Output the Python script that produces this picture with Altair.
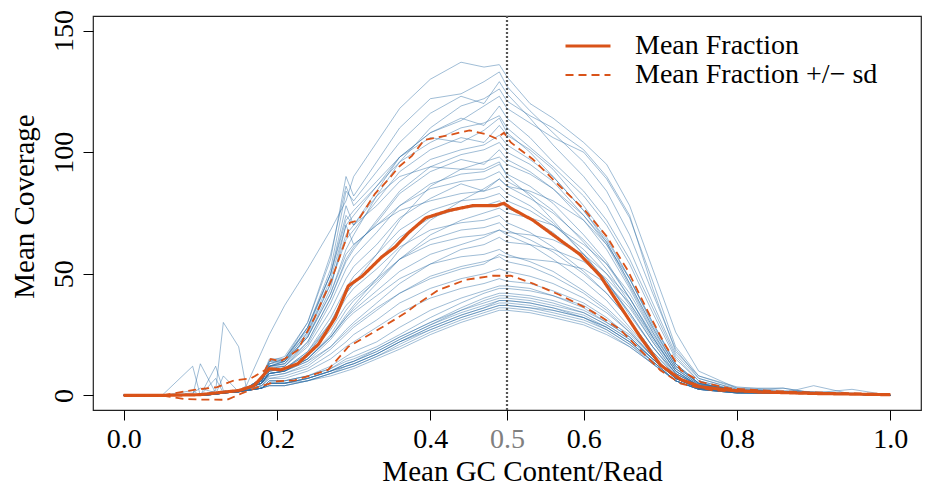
import altair as alt
import pandas as pd

# GC-content grid shared by the per-sample coverage curves
GC = [0.00, 0.05, 0.09, 0.10, 0.12, 0.13, 0.15, 0.16, 0.18, 0.19,
      0.21, 0.24, 0.27, 0.29, 0.30, 0.33, 0.36, 0.40, 0.44, 0.47,
      0.49, 0.50, 0.53, 0.56, 0.60, 0.63, 0.66, 0.69, 0.72, 0.75,
      0.80, 0.86, 0.90, 0.95, 1.00]

# per-sample mean coverage
S01 = [0, 0, 0, 0, 1, 1, 2, 4, 18, 25, 37, 52, 68, 80, 90, 104, 118, 130, 137, 135, 136, 131, 120, 114, 104, 95, 78, 52, 26, 10, 3, 1.5, 1, 0.5, 0]
S02 = [0, 0, 0, 0, 1, 1, 2, 3, 7, 14, 16, 30, 56, 90, 82, 96, 110, 122, 124, 129, 133, 127, 117, 108, 96, 84, 66, 42, 19, 7, 2.5, 1.5, 1, 0.5, 0]
S03 = [0, 0, 0, 0, 0.5, 1, 2, 3, 6, 13, 15, 28, 52, 84, 80, 92, 104, 116, 123, 120, 129, 124, 114, 103, 90, 78, 60, 38, 17, 7, 2.5, 1.5, 1, 0.5, 0]
S04 = [0, 0, 0, 0, 1, 1, 2, 3, 6, 12, 14, 24, 42, 60, 66, 82, 96, 110, 119, 122, 126, 121, 115, 110, 101, 90, 74, 44, 18, 8, 3.5, 2, 1.5, 1, 0]
S05 = [0, 0, 0, 0, 0.5, 1, 1.5, 3, 6, 12, 14, 26, 48, 70, 74, 86, 98, 108, 113, 119, 123, 118, 112, 106, 100, 89, 73, 47, 20, 8, 3, 3, 1, 0.5, 0]
S06 = [0, 0, 0, 0, 1, 1, 2, 3, 7, 13, 15, 30, 58, 86, 78, 88, 98, 108, 114, 111, 119, 114, 106, 96, 84, 72, 56, 36, 16, 6, 2, 1.5, 1, 0.5, 0]
S07 = [0, 0, 0, 0, 12, 2, 2, 3, 6, 12, 14, 28, 50, 72, 76, 86, 96, 104, 110, 112, 115, 110, 102, 94, 82, 70, 54, 34, 15, 6, 2, 1.5, 1, 0.5, 0]
S08 = [0, 0, 0, 0, 1, 1, 2, 3, 6, 13, 14, 26, 46, 64, 68, 80, 92, 101, 106, 104, 111, 107, 101, 93, 78, 65, 48, 29, 13, 5, 2, 1.5, 1, 0.5, 0]
S09 = [0, 0, 0, 0, 1, 1, 2, 3, 7, 15, 15, 27, 50, 78, 70, 78, 88, 97, 101, 103, 107, 103, 97, 90, 76, 63, 46, 28, 12, 5, 2, 1.5, 1, 0.5, 0]
S10 = [0, 0, 1, 3, 1, 1, 2, 3, 6, 12, 13, 22, 40, 55, 60, 72, 84, 94, 99, 101, 104, 100, 95, 88, 74, 62, 45, 27, 12, 5, 2, 1.5, 1.5, 0.5, 0]
S11 = [0, 0, 0, 0, 1, 1, 2, 3, 6, 11, 12, 22, 40, 56, 61, 71, 83, 92, 97, 95, 101, 97, 92, 85, 72, 60, 44, 26, 11, 4.5, 2, 1, 1, 0.5, 0]
S12 = [0, 0, 0, 0, 1, 1, 2, 3, 5, 10, 11, 18, 30, 42, 46, 58, 72, 86, 93, 96, 98, 95, 91, 85, 74, 63, 46, 28, 12, 5, 2, 1, 1, 0.5, 0]
S13 = [0, 0, 0, 0, 2, 30, 20, 3, 6, 12, 12, 21, 38, 52, 57, 67, 78, 87, 91, 92, 95, 91, 86, 79, 66, 55, 40, 24, 10, 4, 2, 1.5, 1, 0.5, 0]
S14 = [0, 0, 0, 0, 1, 1, 2, 3, 7, 14, 14, 24, 44, 70, 62, 70, 78, 85, 88, 89, 92, 88, 83, 76, 63, 52, 38, 23, 10, 4, 2, 1, 1, 0.5, 0]
S15 = [0, 0, 0, 0, 1, 1, 2, 3, 6, 11, 12, 20, 35, 48, 53, 62, 73, 81, 87, 84, 89, 86, 81, 75, 64, 54, 40, 24, 10, 4, 2, 1, 1, 0.5, 0]
S16 = [0, 0, 0, 0, 1, 1, 2, 3, 6, 12, 13, 24, 42, 58, 62, 70, 76, 80, 83, 84, 86, 83, 78, 71, 58, 47, 33, 20, 9, 4, 2, 3, 1, 0.5, 0]
S17 = [0, 0, 0, 13, 1, 1, 2, 3, 5, 10, 11, 18, 32, 44, 49, 58, 68, 76, 80, 81, 83, 80, 76, 70, 60, 50, 37, 22, 9, 4, 2, 1.5, 1, 0.5, 0]
S18 = [0, 0, 0, 0, 1, 1, 2, 3, 5, 10, 11, 17, 30, 42, 46, 55, 65, 73, 77, 78, 80, 77, 73, 67, 56, 46, 34, 20, 8, 3.5, 1.5, 1, 1, 0.5, 0]
S19 = [0, 0, 0, 0, 0.5, 1, 2, 3, 5, 9, 10, 15, 24, 32, 36, 46, 56, 66, 72, 75, 77, 75, 73, 70, 62, 54, 42, 26, 11, 4.5, 2, 1, 1, 0.5, 0]
S20 = [0, 0, 0, 0, 1, 1, 2, 3, 5, 10, 11, 17, 29, 40, 44, 52, 61, 68, 71, 72, 74, 71, 67, 61, 51, 42, 31, 18, 8, 3.5, 1.5, 1, 4, 0.5, 0]
S21 = [0, 0, 12, 0, 1, 1, 2, 3, 5, 9, 10, 15, 25, 35, 39, 47, 56, 64, 68, 69, 71, 68, 64, 59, 50, 42, 31, 18, 8, 3.5, 1.5, 1, 1, 0.5, 0]
S22 = [0, 0, 0, 0, 1, 1, 2, 3, 5, 9, 10, 16, 27, 37, 40, 48, 56, 62, 65, 66, 68, 66, 62, 56, 47, 39, 28, 17, 7, 3, 1.5, 1, 1, 0.5, 0]
S23 = [0, 0, 0, 0, 0.5, 1, 1.5, 2.5, 5, 8, 9, 13, 20, 27, 30, 38, 46, 54, 60, 62, 65, 63, 62, 60, 55, 48, 38, 24, 10, 4, 1.5, 1, 1, 0.5, 0]
S24 = [0, 0, 0, 0, 1, 1, 2, 3, 5, 9, 10, 14, 23, 31, 34, 41, 48, 54, 57, 58, 60, 58, 55, 51, 43, 36, 27, 16, 7, 3, 1.5, 1, 1, 0.5, 0]
S25 = [0, 0, 0, 0, 7, 1, 1.5, 2.5, 4, 8, 9, 12, 19, 25, 28, 35, 42, 49, 53, 55, 57, 55, 53, 49, 42, 35, 26, 16, 7, 3, 1.5, 1, 1, 0.5, 0]
S26 = [0, 0, 0, 0, 0.5, 1, 1.5, 2.5, 4, 7, 8, 11, 17, 22, 25, 31, 38, 44, 48, 50, 52, 51, 49, 46, 40, 34, 26, 16, 7, 3, 1.5, 1, 1, 0.5, 0]
S27 = [0, 0, 0, 0, 0.5, 1, 1.5, 2.5, 4, 7, 7, 10, 15, 20, 22, 28, 34, 40, 44, 46, 48, 47, 46, 43, 38, 32, 24, 15, 7, 3, 1.5, 1, 1, 0.5, 0]
S28 = [0, 0, 0, 0, 0.5, 1, 1.5, 2, 3, 6, 6, 8, 11, 15, 16, 20, 25, 32, 38, 42, 44, 44, 43, 41, 37, 31, 25, 16, 7, 3, 1.2, 1, 1, 2.5, 0]
S29 = [0, 0, 0, 0, 0.5, 1, 1.5, 2, 3, 5, 5, 7, 10, 13, 14, 19, 24, 30, 36, 40, 42, 42, 41, 39, 35, 30, 24, 15, 7, 3, 1.2, 1, 1, 0.5, 0]
S30 = [0, 0, 2, 0, 0.5, 8, 1.5, 2, 3, 6, 6, 8, 11, 14, 15, 19, 24, 30, 35, 39, 41, 41, 40, 38, 34, 29, 23, 15, 7, 3, 1.2, 1, 1, 0.5, 0]
S31 = [0, 0, 0, 0, 0.5, 1, 1.5, 2, 3, 5, 5, 7, 10, 13, 14, 18, 23, 29, 35, 38, 40, 40, 39, 37, 34, 29, 23, 15, 7, 3, 1.2, 1, 1, 0.5, 0]
S32 = [0, 0, 0, 0, 0.5, 1, 1.5, 2, 3, 5, 5, 7, 10, 13, 14, 18, 23, 29, 34, 37, 39, 39, 38, 36, 33, 28, 22, 14, 6, 2.5, 1, 1, 1, 0.5, 0]
S33 = [0, 0, 0, 0, 0.5, 1, 1.5, 2, 3, 5, 5, 7, 10, 12, 13, 17, 22, 28, 33, 36, 38, 38, 37, 35, 32, 27, 21, 14, 6, 2.5, 1, 1, 1, 0.5, 0]
S34 = [0, 0, 0, 0, 0.5, 1, 1.5, 2, 3, 5, 5, 6, 9, 12, 13, 17, 22, 27, 32, 35, 37, 37, 36, 34, 31, 27, 21, 13, 6, 2.5, 1, 1, 1, 0.5, 0]
S35 = [0, 0, 0, 0, 0.5, 1, 1.5, 2, 3, 4, 4, 6, 9, 11, 12, 16, 21, 27, 32, 35, 37, 37, 36, 35, 32, 28, 22, 14, 6, 2.5, 1, 1, 1, 0.5, 0]
S36 = [0, 0, 0, 0, 0.5, 1, 1.5, 2, 3, 4, 4, 6, 9, 11, 12, 16, 20, 26, 31, 34, 36, 36, 35, 33, 30, 26, 20, 13, 6, 2.5, 1, 1, 1, 0.5, 0]
S37 = [0, 0, 0, 0, 0.5, 1, 1.5, 2, 3, 4, 4, 6, 8, 10, 11, 15, 19, 25, 30, 33, 35, 35, 34, 32, 29, 25, 20, 13, 6, 2.5, 1, 1, 1, 0.5, 0]
S38 = [0, 0, 0, 0, 1, 1, 2, 3, 5, 9, 10, 14, 20, 26, 29, 36, 42, 48, 52, 54, 58, 57, 56, 55, 52, 46, 36, 22, 9, 4, 1.5, 1, 1, 0.5, 0]
S39 = [0, 0, 0, 0, 1, 1, 2, 3, 5, 9, 10, 15, 24, 33, 37, 48, 60, 72, 80, 85, 89, 86, 84, 80, 72, 62, 48, 30, 13, 5, 2, 1, 1, 0.5, 0]
S40 = [0, 0, 0, 0, 1, 1, 2, 3, 7, 14, 15, 28, 50, 74, 70, 82, 90, 94, 93, 93, 96, 90, 82, 72, 58, 47, 34, 20, 9, 4, 2, 1, 1, 0.5, 0]
S41 = [0, 0, 0, 0, 0.5, 1, 1.5, 2, 3, 6, 6, 8, 12, 16, 18, 22, 28, 35, 40, 43, 45, 45, 44, 41, 36, 30, 24, 15, 7, 3, 1.2, 1, 1, 0.5, 0]
S42 = [0, 0, 0, 0, 0.5, 1, 1.5, 2, 3, 5, 5, 7, 10, 12, 13, 17, 22, 28, 33, 36, 39, 39, 38, 36, 32, 28, 22, 14, 6, 2.5, 1, 1, 1, 0.5, 0]
S43 = [0, 0, 0, 0, 1, 1, 2, 3, 6, 12, 13, 25, 46, 66, 70, 84, 98, 106, 104, 109, 114, 108, 100, 90, 76, 64, 48, 30, 13, 5, 2, 1.5, 1, 0.5, 0]
S44 = [0, 0, 0, 0, 1, 1, 2, 3, 5, 9, 10, 15, 24, 32, 35, 43, 51, 58, 62, 65, 68, 67, 66, 64, 58, 50, 40, 25, 11, 4.5, 2, 1, 1, 0.5, 0]

SAMPLES = [S01, S02, S03, S04, S05, S06, S07, S08, S09, S10, S11, S12, S13,
           S14, S15, S16, S17, S18, S19, S20, S21, S22, S23, S24, S25, S26,
           S27, S28, S29, S30, S31, S32, S33, S34, S35, S36, S37, S38, S39,
           S40, S41, S42, S43, S44]

# mean fraction and mean +/- sd
MEAN_X = [0.0, 0.05, 0.10, 0.12, 0.15, 0.17, 0.19, 0.205, 0.227, 0.254, 0.276, 0.293, 0.311, 0.337, 0.354, 0.372, 0.394, 0.424, 0.455, 0.486, 0.496, 0.505, 0.534, 0.573, 0.595, 0.622, 0.648, 0.674, 0.70, 0.727, 0.753, 0.792, 0.832, 0.90, 1.0]
MEAN_Y = [0, 0, 0.3, 1, 2, 4, 11, 10.5, 13, 21, 32, 45, 49, 57, 61, 67, 73, 76, 78, 78, 79, 77, 72, 63, 58, 49, 36.5, 24, 12.5, 6.5, 3.5, 2.1, 1.4, 0.8, 0.3]
UP_X = [0.0, 0.05, 0.092, 0.122, 0.144, 0.166, 0.184, 0.192, 0.205, 0.227, 0.249, 0.271, 0.291, 0.295, 0.306, 0.328, 0.346, 0.359, 0.376, 0.392, 0.424, 0.451, 0.473, 0.486, 0.496, 0.505, 0.534, 0.569, 0.602, 0.63, 0.657, 0.683, 0.705, 0.727, 0.753, 0.792, 0.85, 0.90, 1.0]
UP_Y = [0, 0, 2.3, 3.4, 6.2, 7, 10.3, 15, 14, 18.6, 32, 47.5, 65, 71, 72, 83, 89, 94, 98.5, 105, 107, 109, 107.4, 105.6, 108, 104, 97, 86, 76, 65.4, 51.7, 35, 21.4, 10.3, 5.5, 2.8, 1.8, 1.2, 0.5]
LO_X = [0.0, 0.05, 0.078, 0.10, 0.135, 0.153, 0.175, 0.20, 0.223, 0.245, 0.267, 0.293, 0.337, 0.368, 0.385, 0.411, 0.446, 0.481, 0.505, 0.534, 0.569, 0.604, 0.622, 0.648, 0.674, 0.70, 0.727, 0.77, 0.85, 1.0]
LO_Y = [0, 0, -1.4, -1.7, -1.8, 0.7, 3.4, 5.8, 6.2, 8.3, 10.6, 20, 28, 34, 38, 43.4, 47.5, 49.2, 49.2, 46, 41.3, 35.8, 32.4, 27, 18.6, 10.3, 4.8, 2, 1, 0.3]

X_TICKS = [0.0, 0.2, 0.4, 0.5, 0.6, 0.8, 1.0]
Y_TICKS = [0, 50, 100, 150]
SERIES = ["Mean Fraction", "Mean Fraction +/\u2212 sd"]
MARK_X = [0.5]

FONT = "Liberation Serif"
FS = 28
FS_TITLE = 29
ORANGE = "#d95319"
BLUE = "#2c6ca3"

rows = []
for i, vals in enumerate(SAMPLES):
    for g, c in zip(GC, vals):
        rows.append({"gc": g, "cov": c, "sample": f"s{i:02d}"})
blue_df = pd.DataFrame(rows)

srows = []
for g, c in zip(MEAN_X, MEAN_Y):
    srows.append({"gc": g, "cov": c, "series": SERIES[0], "part": "mean"})
for g, c in zip(UP_X, UP_Y):
    srows.append({"gc": g, "cov": c, "series": SERIES[1], "part": "upper"})
for g, c in zip(LO_X, LO_Y):
    srows.append({"gc": g, "cov": c, "series": SERIES[1], "part": "lower"})
sum_df = pd.DataFrame(srows)

xs = alt.Scale(domain=[-0.04, 1.04], nice=False, zero=False)
ys = alt.Scale(domain=[-6, 156], nice=False, zero=False)

x_axis = alt.Axis(
    values=X_TICKS, format=".1f", domain=False, grid=False,
    tickSize=10, tickColor="black", tickWidth=1,
    labelFont=FONT, labelFontSize=FS, labelPadding=5,
    labelFlush=False, labelOverlap=False,
    labelColor={"condition": {"test": "datum.value == 0.5", "value": "#808080"}, "value": "black"},
    title="Mean GC Content/Read", titleFont=FONT, titleFontSize=FS_TITLE,
    titleFontWeight="normal", titleColor="black",
    titleX=429, titleY=70, titleAlign="center", titleBaseline="alphabetic",
)
y_axis = alt.Axis(
    values=Y_TICKS, format="d", domain=False, grid=False,
    tickSize=10, tickColor="black", tickWidth=1,
    labelFont=FONT, labelFontSize=FS, labelPadding=11, labelColor="black",
    labelAngle=270, labelAlign="center", labelBaseline="alphabetic",
    title="Mean Coverage", titleFont=FONT, titleFontSize=FS_TITLE,
    titleFontWeight="normal", titleColor="black",
    titleAngle=270, titleX=-60, titleY=190, titleAlign="center",
    titleBaseline="alphabetic",
)

blue = alt.Chart(blue_df).mark_line(strokeWidth=1, color=BLUE, opacity=0.45).encode(
    x=alt.X("gc:Q", scale=xs, axis=x_axis),
    y=alt.Y("cov:Q", scale=ys, axis=y_axis),
    detail="sample:N",
)

vline = alt.Chart(pd.DataFrame({"gc": MARK_X})).mark_rule(
    color="#555555", strokeDash=[2, 2], strokeWidth=2.2
).encode(x=alt.X("gc:Q", scale=xs))

summary = alt.Chart(sum_df).mark_line(color=ORANGE).encode(
    x=alt.X("gc:Q", scale=xs),
    y=alt.Y("cov:Q", scale=ys),
    detail="part:N",
    strokeDash=alt.StrokeDash(
        "series:N",
        scale=alt.Scale(domain=SERIES, range=[[1, 0], [8, 5]]),
        legend=alt.Legend(
            title=None, orient="none", legendX=481, legendY=16,
            symbolType="M-2,0H2", symbolSize=506, symbolStrokeWidth=3,
            symbolStrokeColor=ORANGE, labelFont=FONT, labelFontSize=FS,
            labelColor="black", labelOffset=33, rowPadding=1, padding=0,
            labelLimit=400,
        ),
    ),
    strokeWidth=alt.StrokeWidth(
        "series:N", scale=alt.Scale(domain=SERIES, range=[3.2, 1.8]), legend=None
    ),
)

chart = alt.layer(blue, vline, summary).properties(
    width=828, height=394,
    autosize=alt.AutoSizeParams(type="none"),
    padding={"left": 93, "top": 16, "right": 4, "bottom": 82},
    background="white",
).configure_view(stroke="#222222", strokeWidth=1.2)

chart.save("out.html", embed_options={"renderer": "svg", "actions": False})
